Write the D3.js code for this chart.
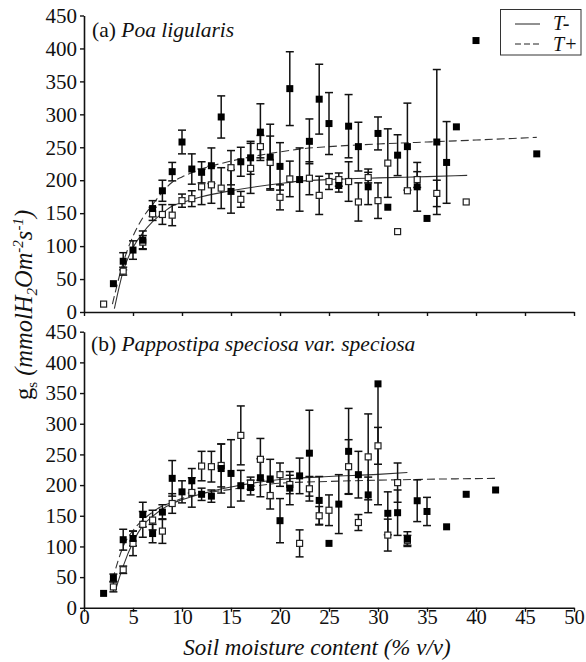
<!DOCTYPE html>
<html>
<head>
<meta charset="utf-8">
<script src="https://cdn.jsdelivr.net/npm/d3@7"></script>
</head>
<body style="margin:0; background:#fff">
<div id="chart"></div>
<script>
// tick values
let xTicks = [0, 5, 10, 15, 20, 25, 30, 35, 40, 45, 50]
let yTicks = [0, 50, 100, 150, 200, 250, 300, 350, 400, 450]

// (a) Poa ligularis : [soil moisture, gs, error(, upper error)]
let poaTPlus = [
    [3, 43, 0], [4, 77, 13], [5, 94, 14], [6, 109, 14], [7, 157, 12], [8, 184, 16], [9, 213, 14],
    [10, 258, 18], [11, 217, 23], [12, 212, 16], [13, 222, 27], [14, 296, 32], [15, 183, 33],
    [16, 228, 22], [17, 234, 25], [18, 273, 43], [19, 235, 50], [20, 221, 36], [21, 339, 56],
    [22, 201, 48], [23, 259, 34], [24, 323, 53], [25, 286, 47], [26, 192, 10], [27, 282, 48],
    [28, 251, 37], [29, 190, 27], [30, 271, 25], [31, 159, 0], [32, 238, 31], [33, 251, 66],
    [34, 190, 37], [35, 142, 0], [36, 258, 110], [37, 227, 62], [38, 281, 0], [40, 412, 0], [46.2, 240, 0]
]
let poaTMinus = [
    [2, 12, 0], [4, 62, 6], [6, 106, 10], [7, 149, 10], [8, 148, 15], [9, 147, 16], [10, 169, 10],
    [11, 172, 12], [12, 190, 27], [13, 193, 28], [14, 188, 31], [15, 219, 26], [16, 171, 12],
    [17, 218, 38], [18, 251, 17], [19, 227, 40], [20, 174, 19], [21, 202, 27], [23, 203, 25],
    [24, 177, 29], [25, 198, 12], [26, 201, 10], [27, 198, 30], [28, 167, 29], [29, 204, 8],
    [30, 169, 27], [31, 226, 52], [32, 122, 0], [33, 184, 0], [34, 201, 12], [36, 180, 20], [39, 167, 0]
]
let poaFitTPlus = [
    [2.9, 12], [4, 75], [5, 115], [6, 143], [7, 163], [8, 182], [9, 197], [10, 205], [12, 217],
    [15, 229], [20, 243], [22.4, 248], [25, 251], [30, 255], [35, 258], [40, 261], [46.2, 265]
]
let poaFitTMinus = [
    [3.1, 5], [4, 62], [5, 98], [6, 120], [7, 137], [8, 150], [9, 161], [10, 166], [12, 175],
    [15, 184], [20, 195], [22.4, 199], [25, 201], [30, 203.5], [35, 205.5], [39.1, 207.4]
]

// (b) Pappostipa speciosa var. speciosa
let papTPlus = [
    [2, 23.5, 0], [3, 49, 6], [4, 111, 17], [5, 113, 12], [6, 152, 20], [7, 121, 15], [8, 156, 12],
    [9, 211, 29], [10, 189, 18], [11, 207, 20], [12, 185, 10], [13, 182, 10], [14, 227, 40],
    [15, 219, 55], [16, 199, 25], [17, 196, 12], [18, 212, 31], [19, 210, 32], [20, 142, 36],
    [21, 195, 27], [22, 215, 29], [23, 252, 70], [24, 175, 39], [25, 105, 0], [26, 169, 48],
    [27, 255, 70], [28, 217, 38], [29, 184, 29], [30, 365, 197, 0], [31, 154, 35], [32, 155, 37],
    [33, 112, 12], [34, 174.5, 34], [35, 157, 23], [37, 132, 0], [39, 185, 0], [42, 192, 0]
]
let papTMinus = [
    [3, 34, 8], [4, 62, 6], [5, 105, 20], [6, 136, 21], [7, 143, 16], [8, 125, 20], [9, 170, 16],
    [11, 188, 24], [12, 231, 24], [13, 230, 25], [14, 232, 35], [16, 281, 48], [17, 203, 10],
    [18, 242, 34], [19, 183, 22], [20, 217, 19], [21, 201, 15], [22, 105, 22], [23, 194, 20],
    [24, 150, 15], [25, 159, 25], [27, 230, 44], [28, 139, 13], [29, 246, 70], [30, 264, 30],
    [31, 118.5, 26], [32, 204, 32], [33, 110, 8]
]
let papFitTPlus = [
    [2.9, 45], [4, 100], [5, 126], [6, 143], [7, 156], [8, 166], [9, 172], [10, 178], [12, 186],
    [15, 193], [20, 203], [25, 206], [30, 208], [35, 209.5], [42, 211]
]
let papFitTMinus = [
    [3.2, 28], [4, 68], [5, 107], [6, 134], [7, 149], [8, 161], [9, 170], [10, 176], [12, 186],
    [15, 197], [20, 209], [25, 214], [30, 217.5], [33, 220.5]
]

let width = 586
let height = 662
let xLeft = 84, xRight = 574

let svg = d3.select("#chart")
    .append("svg")
        .attr("width", width)
        .attr("height", height)
        .style("font-family", "Liberation Serif")

let xScale = d3.scaleLinear()
    .domain([0, 50])
    .range([xLeft, xRight])

function drawPanel(top, bottom, filled, open, fitPlus, fitMinus, showXLabels) {
    let yScale = d3.scaleLinear()
        .domain([0, 450])
        .range([bottom, top])
    let g = svg.append("g")

    let yAxis = g.append("g")
        .attr("transform", "translate(" + xLeft + ",0)")
        .call(d3.axisLeft(yScale).tickValues(yTicks).tickSize(4).tickSizeOuter(0).tickPadding(3))
    let xAxis = g.append("g")
        .attr("transform", "translate(0," + bottom + ")")
        .call(d3.axisBottom(xScale).tickValues(xTicks).tickSize(4).tickSizeOuter(0)
            .tickFormat(showXLabels ? d3.format("d") : ""))
    ;[yAxis, xAxis].forEach(function(a){
        a.attr("font-family", null).attr("font-size", 21)
        a.select(".domain").attr("stroke", "#111").attr("stroke-width", 1.6)
        a.selectAll(".tick line").attr("stroke", "#111").attr("stroke-width", 1.4)
        a.selectAll("text").attr("fill", "#111").style("font-family", "Liberation Serif")
    })
    xAxis.selectAll("text").attr("y", 16).attr("dy", 0).attr("font-size", 20.5)

    // fitted curves
    let line = d3.line()
        .x(d => xScale(d[0]))
        .y(d => yScale(d[1]))
        .curve(d3.curveMonotoneX)
    g.append("path")
        .attr("fill", "none")
        .attr("stroke", "#333")
        .attr("stroke-width", 1.1)
        .attr("d", line(fitMinus))
    g.append("path")
        .attr("fill", "none")
        .attr("stroke", "#333")
        .attr("stroke-width", 1.1)
        .attr("stroke-dasharray", "8,4")
        .attr("d", line(fitPlus))

    // error bars
    let withErr = open.concat(filled).filter(d => d[2] > 0 || (d[3] || 0) > 0)
    let bars = g.selectAll(".err")
        .data(withErr)
        .enter()
        .append("g")
            .attr("class", "err")
            .attr("stroke", "#111")
            .attr("stroke-width", 1.5)
    bars.append("line")
        .attr("x1", d => xScale(d[0]))
        .attr("x2", d => xScale(d[0]))
        .attr("y1", d => yScale(d[1] - d[2]))
        .attr("y2", d => yScale(d[1] + (d[3] !== undefined ? d[3] : d[2])))
    bars.append("line")
        .attr("x1", d => xScale(d[0]) - 4)
        .attr("x2", d => xScale(d[0]) + 4)
        .attr("y1", d => yScale(d[1] - d[2]))
        .attr("y2", d => yScale(d[1] - d[2]))
    bars.filter(d => d[3] === undefined || d[3] > 0)
        .append("line")
        .attr("x1", d => xScale(d[0]) - 4)
        .attr("x2", d => xScale(d[0]) + 4)
        .attr("y1", d => yScale(d[1] + (d[3] !== undefined ? d[3] : d[2])))
        .attr("y2", d => yScale(d[1] + (d[3] !== undefined ? d[3] : d[2])))

    // markers
    g.selectAll(".openPt")
        .data(open)
        .enter()
        .append("rect")
            .attr("class", "openPt")
            .attr("x", d => xScale(d[0]) - 3)
            .attr("y", d => yScale(d[1]) - 3)
            .attr("width", 6)
            .attr("height", 6)
            .attr("fill", "#fff")
            .attr("stroke", "#222")
            .attr("stroke-width", 1.2)
    g.selectAll(".filledPt")
        .data(filled)
        .enter()
        .append("rect")
            .attr("class", "filledPt")
            .attr("x", d => xScale(d[0]) - 3.5)
            .attr("y", d => yScale(d[1]) - 3.5)
            .attr("width", 7)
            .attr("height", 7)
            .attr("fill", "#000")
}

drawPanel(15.5, 312, poaTPlus, poaTMinus, poaFitTPlus, poaFitTMinus, false)
drawPanel(331.7, 607.8, papTPlus, papTMinus, papFitTPlus, papFitTMinus, true)

// panel titles
let titleA = svg.append("text")
    .attr("x", 92).attr("y", 37)
    .attr("font-size", 21.5).attr("fill", "#111")
titleA.append("tspan").text("(a) ")
titleA.append("tspan").attr("font-style", "italic").text("Poa ligularis")

let titleB = svg.append("text")
    .attr("x", 91).attr("y", 350.5)
    .attr("font-size", 21.5).attr("fill", "#111")
titleB.append("tspan").text("(b) ")
titleB.append("tspan").attr("font-style", "italic").text("Pappostipa speciosa var. speciosa")

// axis titles
svg.append("text")
    .attr("x", 317).attr("y", 655)
    .attr("text-anchor", "middle")
    .attr("font-size", 23)
    .attr("font-style", "italic")
    .attr("fill", "#111")
    .text("Soil moisture content (% v/v)")

let yTitle = svg.append("text")
    .attr("transform", "translate(32,305) rotate(-90)")
    .attr("text-anchor", "middle")
    .attr("font-size", 24.5)
    .attr("fill", "#111")
yTitle.append("tspan").text("g")
yTitle.append("tspan").attr("font-size", 15).attr("dy", 5).text("s")
yTitle.append("tspan").attr("dy", -5).attr("font-style", "italic").text(" (mmolH")
yTitle.append("tspan").attr("font-size", 15).attr("dy", 5).attr("font-style", "italic").text("2")
yTitle.append("tspan").attr("dy", -5).attr("font-style", "italic").text("Om")
yTitle.append("tspan").attr("font-size", 15).attr("dy", -9).attr("font-style", "italic").text("-2")
yTitle.append("tspan").attr("dy", 9).attr("font-style", "italic").text("s")
yTitle.append("tspan").attr("font-size", 15).attr("dy", -9).attr("font-style", "italic").text("-1")
yTitle.append("tspan").attr("dy", 9).attr("font-style", "italic").text(")")

// legend
let legend = svg.append("g")
legend.append("rect")
    .attr("x", 500.5).attr("y", 9.5)
    .attr("width", 80.5).attr("height", 45.5)
    .attr("fill", "#fff")
    .attr("stroke", "#333")
    .attr("stroke-width", 1)
legend.append("line")
    .attr("x1", 515).attr("x2", 540).attr("y1", 24).attr("y2", 24)
    .attr("stroke", "#222").attr("stroke-width", 1)
legend.append("line")
    .attr("x1", 515).attr("x2", 540).attr("y1", 44).attr("y2", 44)
    .attr("stroke", "#222").attr("stroke-width", 1)
    .attr("stroke-dasharray", "6,3")
legend.append("text")
    .attr("x", 553).attr("y", 30)
    .attr("font-size", 20).attr("font-style", "italic").attr("fill", "#111")
    .text("T-")
legend.append("text")
    .attr("x", 553).attr("y", 51)
    .attr("font-size", 20).attr("font-style", "italic").attr("fill", "#111")
    .text("T+")
</script>
</body>
</html>
